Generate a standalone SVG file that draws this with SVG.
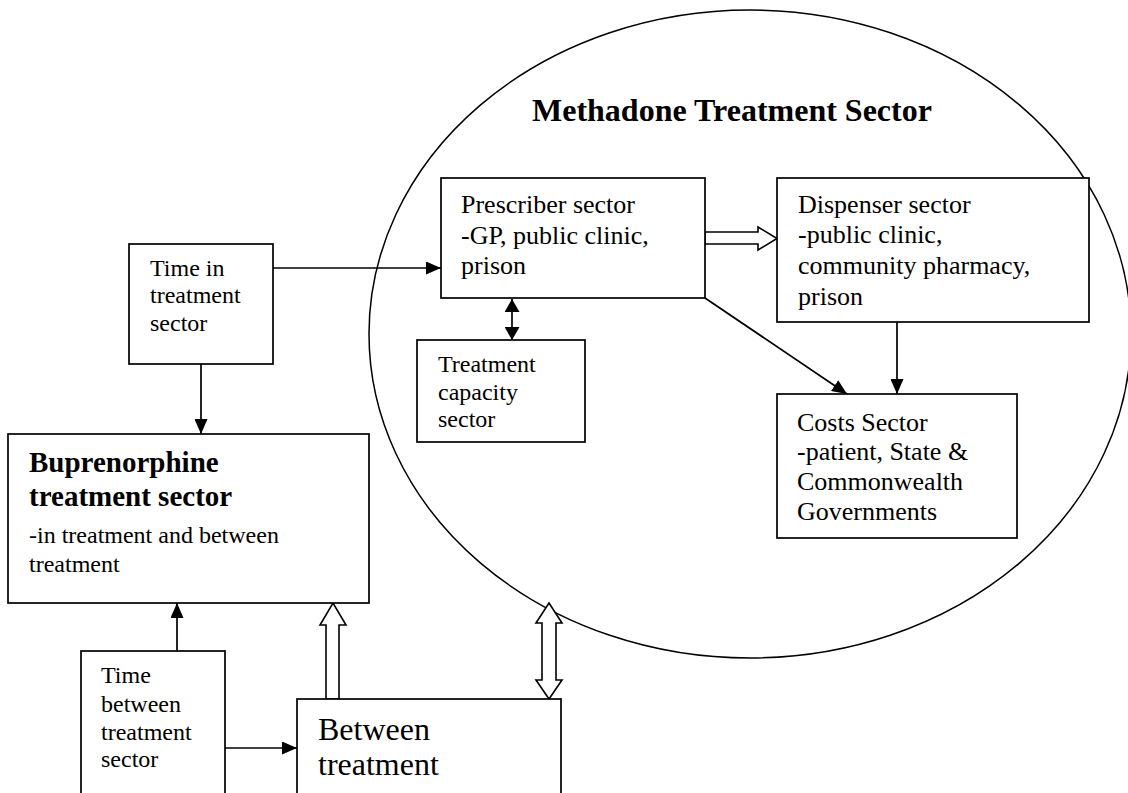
<svg xmlns="http://www.w3.org/2000/svg" width="1128" height="793" viewBox="0 0 1128 793">
<style>
  .box { fill: #fff; stroke: #000; stroke-width: 1.7; }
  .t { font-family: "Liberation Serif", "Times New Roman", serif; fill: #000; }
  .t24 { font-size: 24px; }
  .t26 { font-size: 26px; }
  .b { font-weight: bold; }
  .ln { fill: none; stroke: #000; stroke-width: 1.7; }
  .hollow { fill: #fff; stroke: #000; stroke-width: 1.6; stroke-linejoin: miter; }
</style>
<defs>
  <marker id="ah" markerUnits="userSpaceOnUse" viewBox="0 0 15 13" refX="15" refY="6.5" markerWidth="15" markerHeight="13" orient="auto">
    <path d="M0,0 L15,6.5 L0,13 z" fill="#000"/>
  </marker>
  <marker id="ahs" markerUnits="userSpaceOnUse" viewBox="0 0 13 15" refX="13" refY="7.5" markerWidth="13" markerHeight="15" orient="auto-start-reverse">
    <path d="M0,0 L13,7.5 L0,15 z" fill="#000"/>
  </marker>
</defs>

<g id="methadone-sector">
  <ellipse cx="750" cy="334" rx="381" ry="324" fill="none" stroke="#000" stroke-width="1.5"/>
  <text class="t b" x="532" y="121" font-size="32">Methadone Treatment Sector</text>
</g>

<g id="connectors">
  <line class="ln" x1="273" y1="268" x2="441" y2="268" marker-end="url(#ah)"/>
  <line class="ln" x1="201" y1="364" x2="201" y2="434" marker-end="url(#ah)"/>
  <line class="ln" x1="512" y1="299" x2="512" y2="340" marker-start="url(#ahs)" marker-end="url(#ahs)"/>
  <line class="ln" x1="897" y1="322" x2="897" y2="394" marker-end="url(#ah)"/>
  <line class="ln" x1="705" y1="298" x2="847" y2="394" marker-end="url(#ah)"/>
  <line class="ln" x1="177" y1="651" x2="177" y2="603" marker-end="url(#ah)"/>
  <line class="ln" x1="225" y1="748" x2="297" y2="748" marker-end="url(#ah)"/>
  <polygon class="hollow" points="705,232 758,232 758,227 777,238.5 758,250 758,244 705,244"/>
  <polygon class="hollow" points="326,699 326,625 320,625 333,603 346,625 339,625 339,699"/>
  <polygon class="hollow" points="542,623 536,623 549,603 562,623 556,623 556,680 562,680 549,699 536,680 542,680"/>
</g>

<g id="prescriber">
  <rect class="box" x="441" y="178" width="264" height="120"/>
  <text class="t t26" x="461" y="213">Prescriber sector</text>
  <text class="t t26" x="461" y="244">-GP, public clinic,</text>
  <text class="t t26" x="461" y="274">prison</text>
</g>

<g id="dispenser">
  <rect class="box" x="777" y="178" width="312" height="144"/>
  <text class="t t26" x="798" y="213">Dispenser sector</text>
  <text class="t t26" x="798" y="243">-public clinic,</text>
  <text class="t t26" x="798" y="274">community pharmacy,</text>
  <text class="t t26" x="798" y="305">prison</text>
</g>

<g id="capacity">
  <rect class="box" x="417" y="340" width="168" height="102"/>
  <text class="t t24" x="438" y="372">Treatment</text>
  <text class="t t24" x="438" y="400">capacity</text>
  <text class="t t24" x="438" y="427">sector</text>
</g>

<g id="costs">
  <rect class="box" x="777" y="394" width="240" height="144"/>
  <text class="t t26" x="797" y="431">Costs Sector</text>
  <text class="t t26" x="797" y="460">-patient, State &amp;</text>
  <text class="t t26" x="797" y="490">Commonwealth</text>
  <text class="t t26" x="797" y="520">Governments</text>
</g>

<g id="time-in-treatment">
  <rect class="box" x="129" y="244" width="144" height="120"/>
  <text class="t t24" x="150" y="276">Time in</text>
  <text class="t t24" x="150" y="303">treatment</text>
  <text class="t t24" x="150" y="331">sector</text>
</g>

<g id="buprenorphine">
  <rect class="box" x="8" y="434" width="361" height="169"/>
  <text class="t b" x="29" y="472" font-size="29">Buprenorphine</text>
  <text class="t b" x="29" y="506" font-size="29">treatment sector</text>
  <text class="t t24" x="29" y="543">-in treatment and between</text>
  <text class="t t24" x="29" y="572">treatment</text>
</g>

<g id="time-between">
  <rect class="box" x="81" y="651" width="144" height="160"/>
  <text class="t t24" x="101" y="683">Time</text>
  <text class="t t24" x="101" y="712">between</text>
  <text class="t t24" x="101" y="740">treatment</text>
  <text class="t t24" x="101" y="767">sector</text>
</g>

<g id="between-treatment">
  <rect class="box" x="297" y="699" width="264" height="110"/>
  <text class="t" x="318" y="740" font-size="32">Between</text>
  <text class="t" x="318" y="775" font-size="32">treatment</text>
</g>
</svg>
